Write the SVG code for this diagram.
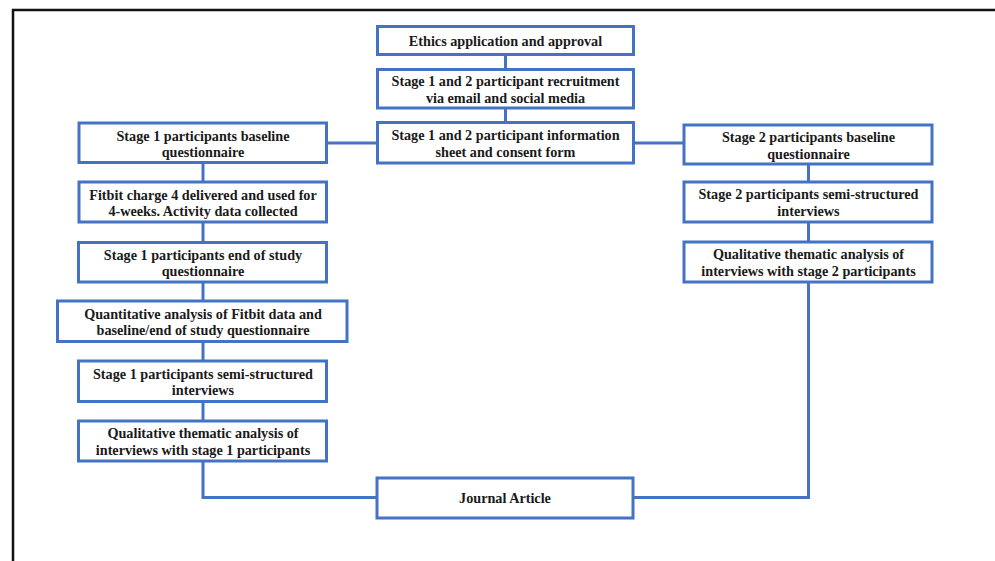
<svg xmlns="http://www.w3.org/2000/svg" width="995" height="561" viewBox="0 0 995 561">
<style>
.box{fill:#fff;stroke:#4472C4;stroke-width:3}
.ln{fill:none;stroke:#4472C4;stroke-width:3}
</style>
<rect width="995" height="561" fill="#fff"/>
<path d="M13,561 V10 H995" fill="none" stroke="#111" stroke-width="2.5"/>
<g id="connectors">
<path class="ln" d="M505.5,54.5 V69.5"/>
<path class="ln" d="M505.5,108 V122.5"/>
<path class="ln" d="M326.5,143 H377.5"/>
<path class="ln" d="M633.5,143 H684"/>
<path class="ln" d="M203,162.5 V182"/>
<path class="ln" d="M203,222 V242.5"/>
<path class="ln" d="M203,282 V301"/>
<path class="ln" d="M203,341.5 V361"/>
<path class="ln" d="M203,401.5 V421"/>
<path class="ln" d="M203,461 V497.5 H377"/>
<path class="ln" d="M808.5,164 V182"/>
<path class="ln" d="M808.5,222 V242"/>
<path class="ln" d="M808.5,282 V497.5 H633"/>
</g>
<g font-family="Liberation Serif, Times New Roman, serif" font-weight="bold" font-size="14.2" fill="#1a1a1a" text-anchor="middle">
<g id="ethics"><rect class="box" x="377.5" y="26.5" width="256" height="28"/><text x="505.5" y="45.5">Ethics application and approval</text></g>
<g id="recruit"><rect class="box" x="377.5" y="69.5" width="256" height="38.5"/><text x="505.5" y="86">Stage 1 and 2 participant recruitment</text><text x="505.5" y="102.5">via email and social media</text></g>
<g id="info"><rect class="box" x="377.5" y="122.5" width="256" height="40.5"/><text x="505.5" y="140">Stage 1 and 2 participant information</text><text x="505.5" y="156.5">sheet and consent form</text></g>
<g id="s1baseline"><rect class="box" x="79" y="123" width="247.5" height="39.5"/><text x="203" y="140.5">Stage 1 participants baseline</text><text x="203" y="157">questionnaire</text></g>
<g id="fitbit"><rect class="box" x="79" y="182" width="247.5" height="40"/><text x="203" y="199.5">Fitbit charge 4 delivered and used for</text><text x="203" y="216">4-weeks. Activity data collected</text></g>
<g id="s1end"><rect class="box" x="78.5" y="242.5" width="248" height="39.5"/><text x="203" y="259.5">Stage 1 participants end of study</text><text x="203" y="276">questionnaire</text></g>
<g id="quant"><rect class="box" x="57.5" y="301" width="289.5" height="40.5"/><text x="203" y="318.5">Quantitative analysis of Fitbit data and</text><text x="203" y="335">baseline/end of study questionnaire</text></g>
<g id="s1semi"><rect class="box" x="78.5" y="361" width="248" height="40.5"/><text x="203" y="378.5">Stage 1 participants semi-structured</text><text x="203" y="395">interviews</text></g>
<g id="s1qual"><rect class="box" x="78.5" y="421" width="248" height="40"/><text x="203" y="438">Qualitative thematic analysis of</text><text x="203" y="454.5">interviews with stage 1 participants</text></g>
<g id="s2baseline"><rect class="box" x="684" y="125" width="248" height="39"/><text x="808.5" y="142">Stage 2 participants baseline</text><text x="808.5" y="158.5">questionnaire</text></g>
<g id="s2semi"><rect class="box" x="684" y="182" width="248" height="40"/><text x="808.5" y="199">Stage 2 participants semi-structured</text><text x="808.5" y="215.5">interviews</text></g>
<g id="s2qual"><rect class="box" x="684" y="242" width="248" height="40"/><text x="808.5" y="259">Qualitative thematic analysis of</text><text x="808.5" y="275.5">interviews with stage 2 participants</text></g>
<g id="journal"><rect class="box" x="377" y="478" width="256" height="40"/><text x="505" y="502.5">Journal Article</text></g>
</g>
</svg>
